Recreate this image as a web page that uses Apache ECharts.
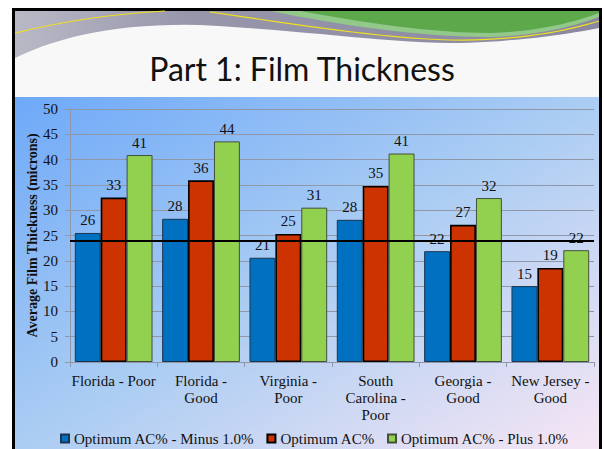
<!DOCTYPE html>
<html>
<head>
<meta charset="utf-8">
<script src="https://cdn.jsdelivr.net/npm/echarts@6/dist/echarts.min.js"></script>
<style>
    body { margin: 0; background: #fff; }
    #chart { width: 604px; height: 449px; }
</style>
</head>
<body>
<div id="chart"></div>
<script>
    // 数据
    var categories = ['Florida - Poor', 'Florida -\nGood', 'Virginia -\nPoor', 'South\nCarolina -\nPoor', 'Georgia -\nGood', 'New Jersey -\nGood'];
    var seriesNames = ['Optimum AC% - Minus 1.0%', 'Optimum AC%', 'Optimum AC% - Plus 1.0%'];
    var minusValues = [25.5, 28.3, 20.6, 28.1, 21.9, 15.0];
    var optimumValues = [32.5, 35.9, 25.3, 34.8, 27.1, 18.6];
    var plusValues = [40.9, 43.6, 30.5, 41.2, 32.4, 22.1];
    var targetLine = [24];
    var yTicks = [0, 50, 5]; // min, max, interval

    var serif = "'Liberation Serif', 'Times New Roman', serif";

    // 顶部装饰曲线 -> 多边形点
    function curve(start, segs) {
        var pts = [start];
        var p0 = start;
        segs.forEach(function(s) {
            for (var i = 1; i <= 16; i++) {
                var t = i / 16, u = 1 - t;
                pts.push([
                    u * u * u * p0[0] + 3 * u * u * t * s[0][0] + 3 * u * t * t * s[1][0] + t * t * t * s[2][0],
                    u * u * u * p0[1] + 3 * u * u * t * s[0][1] + 3 * u * t * t * s[1][1] + t * t * t * s[2][1]
                ]);
            }
            p0 = s[2];
        });
        return pts;
    }

    var grayPts = [[15, 11], [599, 11]].concat(curve([599, 28], [
        [[560, 36], [500, 43], [450, 43]],
        [[380, 42], [300, 30], [200, 25]],
        [[120, 23], [60, 36], [15, 58]]
    ]));
    var lightGreenPts = [[599, 11]].concat(curve([599, 17], [
        [[570, 28], [530, 36], [490, 37]],
        [[420, 37], [340, 25], [270, 11]]
    ]));
    var greenPts = [[599, 11]].concat(curve([599, 13], [
        [[570, 24], [530, 32], [490, 33]],
        [[430, 33], [360, 22], [300, 11]]
    ]));

    function barSeries(name, data, color, border, borderWidth) {
        return {
            name: name,
            type: 'bar',
            data: data,
            barGap: '0%',
            barCategoryGap: '11%',
            itemStyle: { color: color, borderColor: border, borderWidth: borderWidth },
            label: {
                show: true,
                position: 'top',
                distance: 5,
                fontFamily: serif,
                fontSize: 15,
                color: '#111',
                formatter: function(p) { return Math.round(p.value); }
            }
        };
    }

    var s1 = barSeries(seriesNames[0], minusValues, '#0070C0', '#1d3550', 1);
    var s2 = barSeries(seriesNames[1], optimumValues, '#CC3300', '#000', 1.6);
    var s3 = barSeries(seriesNames[2], plusValues, '#92D050', '#44503a', 1);
    s2.markLine = {
        silent: true,
        symbol: ['none', 'none'],
        label: { show: false },
        lineStyle: { color: '#000', width: 2, type: 'solid' },
        data: [{ yAxis: targetLine[0] }]
    };

    var chart = echarts.init(document.getElementById('chart'), null, { renderer: 'svg' });
    chart.setOption({
        animation: false,
        graphic: [
            // 外框和背景
            { type: 'rect', z: -10, shape: { x: 13.5, y: 9.5, width: 587, height: 450 },
              style: { fill: '#f8f8f8', stroke: '#000', lineWidth: 3 } },
            { type: 'rect', z: -9, shape: { x: 15, y: 97, width: 584, height: 352 },
              style: { fill: new echarts.graphic.LinearGradient(0, 0, 1, 1, [
                  { offset: 0, color: '#6ea9f8' },
                  { offset: 0.5, color: '#abcdf3' },
                  { offset: 1, color: '#f7e6f4' }
              ]) } },
            // 顶部装饰
            { type: 'polygon', z: -8, shape: { points: grayPts },
              style: { fill: new echarts.graphic.LinearGradient(0, 0, 1, 0, [
                  { offset: 0, color: '#b9b9c6' },
                  { offset: 0.3, color: '#9796ab' },
                  { offset: 1, color: '#8a88a0' }
              ]) } },
            { type: 'polygon', z: -7, shape: { points: lightGreenPts }, style: { fill: '#92c98a' } },
            { type: 'polygon', z: -6, shape: { points: greenPts }, style: { fill: '#5ea84c' } },
            { type: 'bezierCurve', z: -5, shape: { x1: 15, y1: 33, cpx1: 60, cpy1: 22, cpx2: 110, cpy2: 14, x2: 165, y2: 11 },
              style: { fill: null, stroke: '#f0e020', lineWidth: 1.2 } },
            { type: 'polyline', z: -5, shape: { points: curve([210, 12], [[[300, 25], [380, 38], [450, 40]], [[520, 41], [570, 30], [599, 21]]]) },
              style: { fill: null, stroke: '#f0e020', lineWidth: 1.2 } }
        ],
        title: {
            text: 'Part 1: Film Thickness',
            left: 'center',
            top: 47,
            textStyle: { fontFamily: "Lato, 'Open Sans', sans-serif", fontSize: 32, fontWeight: 'normal', color: '#111' }
        },
        legend: {
            data: seriesNames,
            left: 55,
            top: 426,
            itemWidth: 8,
            itemHeight: 8,
            itemGap: 12,
            icon: 'rect',
            textStyle: { fontFamily: serif, fontSize: 15, color: '#111' }
        },
        grid: { left: 70, right: 10, top: 109, bottom: 87 },
        xAxis: {
            type: 'category',
            data: categories,
            axisLine: { lineStyle: { color: '#8f97a8' } },
            axisTick: { show: true, length: 5, lineStyle: { color: '#8f97a8' } },
            axisLabel: { fontFamily: serif, fontSize: 15, color: '#111', lineHeight: 17, margin: 10, interval: 0 }
        },
        yAxis: {
            type: 'value',
            min: yTicks[0],
            max: yTicks[1],
            interval: yTicks[2],
            name: 'Average Film Thickness (microns)',
            nameLocation: 'middle',
            nameGap: 31,
            nameMoveOverlap: false,
            nameTextStyle: { fontFamily: serif, fontSize: 14, fontWeight: 'bold', color: '#111' },
            axisLine: { show: true, lineStyle: { color: '#8f97a8' } },
            axisTick: { show: true, length: 5, lineStyle: { color: '#8f97a8' } },
            axisLabel: { fontFamily: serif, fontSize: 15, color: '#111', margin: 12 },
            splitLine: { lineStyle: { color: '#8f97a8' } }
        },
        series: [s1, s2, s3]
    });
</script>
</body>
</html>
